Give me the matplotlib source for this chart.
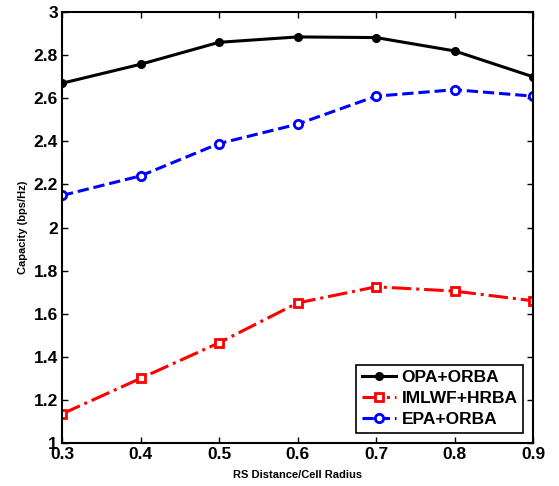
import numpy as np
import matplotlib
matplotlib.use('Agg')
import matplotlib.pyplot as plt

plt.rcParams['font.family'] = ['Liberation Sans', 'DejaVu Sans']
plt.rcParams['font.weight'] = 'bold'

# RS distance normalised by cell radius
rs_dist = [0.3, 0.4, 0.5, 0.6, 0.7, 0.8, 0.9]
opa_orba = [2.67, 2.758, 2.86, 2.885, 2.882, 2.82, 2.70]
imlwf_hrba = [1.135, 1.30, 1.465, 1.65, 1.725, 1.705, 1.66]
epa_orba = [2.149, 2.24, 2.39, 2.48, 2.61, 2.64, 2.61]

fig = plt.figure(figsize=(5.59, 4.86), dpi=100)
ax = fig.add_axes([0.111, 0.0885, 0.8426, 0.8865])

ax.plot(rs_dist, opa_orba, '-', color='black', lw=2.2, marker='o', ms=5.5,
        mfc='black', mec='black', label='OPA+ORBA')
ax.plot(rs_dist, imlwf_hrba, '-.', color='red', lw=2.2, marker='s', ms=5.5,
        mfc='white', mec='red', mew=2, label='IMLWF+HRBA')
ax.plot(rs_dist, epa_orba, '--', color='blue', lw=2.2, marker='o', ms=6,
        mfc='white', mec='blue', mew=2, label='EPA+ORBA')

ax.set_xlim(0.3, 0.9)
ax.set_ylim(1, 3)
ax.set_xticks(rs_dist)
ax.set_yticks(np.arange(1, 3.01, 0.2))
ax.set_xticklabels(['0.3', '0.4', '0.5', '0.6', '0.7', '0.8', '0.9'])
ax.set_yticklabels(['1', '1.2', '1.4', '1.6', '1.8', '2', '2.2', '2.4', '2.6', '2.8', '3'])
ax.tick_params(direction='in', top=True, right=True, labelsize=12.5, length=4, width=1, pad=3)
for s in ax.spines.values():
    s.set_linewidth(1.5)

ax.set_xlabel('RS Distance/Cell Radius', fontsize=8, fontweight='bold', labelpad=6)
ax.set_ylabel('Capacity (bps/Hz)', fontsize=8, fontweight='bold', labelpad=4)

leg = ax.legend(loc='lower right', fontsize=12.5, fancybox=False, edgecolor='black',
                framealpha=1, handlelength=2.0, borderpad=0.3, labelspacing=0.35,
                handletextpad=0.3, borderaxespad=0.6)
leg.get_frame().set_linewidth(1.2)
for t in leg.get_texts():
    t.set_fontweight('bold')

fig.savefig('out.png', dpi=100)
